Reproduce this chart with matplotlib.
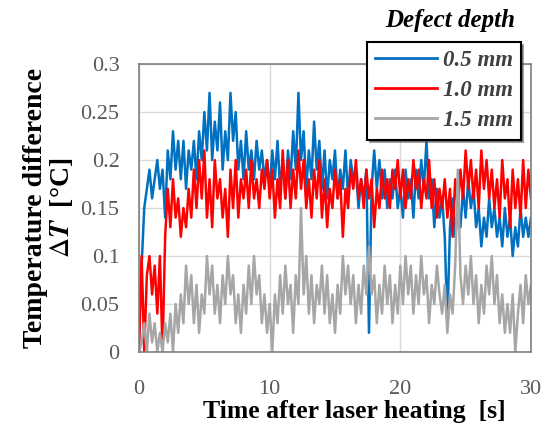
import numpy as np
import matplotlib
matplotlib.use('Agg')
import matplotlib.pyplot as plt

# sample interval of the recording [s]
dt = 0.2

# Defect depth 0.5 mm
depth_05 = [0.02, 0.09, 0.15, 0.17, 0.19, 0.16, 0.18, 0.20, 0.17, 0.19,
            0.14, 0.21, 0.18, 0.23, 0.19, 0.22, 0.18, 0.22, 0.17, 0.21,
            0.19, 0.22, 0.18, 0.23, 0.20, 0.25, 0.21, 0.27, 0.20, 0.24,
            0.21, 0.26, 0.19, 0.23, 0.20, 0.27, 0.22, 0.25, 0.19, 0.22,
            0.18, 0.23, 0.19, 0.21, 0.18, 0.22, 0.19, 0.21, 0.18, 0.20,
            0.17, 0.21, 0.18, 0.22, 0.17, 0.20, 0.16, 0.21, 0.18, 0.23,
            0.19, 0.27, 0.20, 0.23, 0.17, 0.21, 0.18, 0.24, 0.19, 0.22,
            0.17, 0.21, 0.16, 0.20, 0.18, 0.21, 0.16, 0.19, 0.17, 0.21,
            0.16, 0.20, 0.18, 0.19, 0.15, 0.18, 0.16, 0.19, 0.02, 0.17,
            0.21, 0.17, 0.20, 0.16, 0.19, 0.15, 0.18, 0.16, 0.19, 0.15,
            0.17, 0.14, 0.19, 0.16, 0.18, 0.14, 0.19, 0.16, 0.20, 0.17,
            0.22, 0.16, 0.18, 0.13, 0.17, 0.14, 0.16, 0.12, 0.03, 0.13,
            0.16, 0.12, 0.15, 0.13, 0.17, 0.14, 0.18, 0.15, 0.17, 0.13,
            0.15, 0.11, 0.14, 0.12, 0.16, 0.13, 0.15, 0.12, 0.14, 0.11,
            0.15, 0.12, 0.14, 0.10, 0.13, 0.11, 0.15, 0.12, 0.14, 0.12,
            0.14]

# Defect depth 1.0 mm
depth_10 = [0.00, 0.10, 0.00, 0.08, 0.10, 0.06, 0.09, 0.04, 0.10, 0.00,
            0.12, 0.17, 0.13, 0.18, 0.14, 0.16, 0.12, 0.15, 0.13, 0.17,
            0.14, 0.19, 0.15, 0.20, 0.16, 0.21, 0.14, 0.18, 0.13, 0.20,
            0.16, 0.18, 0.14, 0.17, 0.12, 0.19, 0.15, 0.20, 0.14, 0.18,
            0.16, 0.19, 0.15, 0.20, 0.16, 0.18, 0.15, 0.19, 0.17, 0.20,
            0.16, 0.19, 0.14, 0.18, 0.15, 0.21, 0.16, 0.20, 0.15, 0.19,
            0.16, 0.21, 0.17, 0.20, 0.15, 0.18, 0.14, 0.19, 0.16, 0.20,
            0.14, 0.18, 0.13, 0.17, 0.15, 0.19, 0.16, 0.18, 0.12, 0.17,
            0.15, 0.19, 0.17, 0.20, 0.16, 0.18, 0.15, 0.19, 0.16, 0.18,
            0.13, 0.17, 0.15, 0.19, 0.16, 0.18, 0.15, 0.19, 0.17, 0.20,
            0.16, 0.19, 0.15, 0.18, 0.16, 0.20, 0.17, 0.19, 0.15, 0.18,
            0.16, 0.20, 0.15, 0.18, 0.14, 0.17, 0.15, 0.18, 0.14, 0.17,
            0.12, 0.18, 0.15, 0.19, 0.16, 0.21, 0.17, 0.20, 0.16, 0.19,
            0.15, 0.21, 0.17, 0.20, 0.16, 0.19, 0.15, 0.18, 0.14, 0.20,
            0.16, 0.18, 0.13, 0.19, 0.15, 0.18, 0.14, 0.20, 0.15, 0.19,
            0.16]

# Defect depth 1.5 mm
depth_15 = [0.00, 0.01, 0.03, 0.00, 0.04, 0.01, 0.03, 0.00, 0.02, 0.00,
            0.03, 0.01, 0.04, 0.00, 0.05, 0.02, 0.06, 0.03, 0.09, 0.05,
            0.08, 0.03, 0.07, 0.02, 0.06, 0.04, 0.10, 0.06, 0.09, 0.04,
            0.07, 0.03, 0.08, 0.05, 0.10, 0.06, 0.08, 0.03, 0.06, 0.02,
            0.07, 0.04, 0.09, 0.05, 0.10, 0.06, 0.08, 0.03, 0.06, 0.02,
            0.05, 0.00, 0.06, 0.03, 0.08, 0.04, 0.09, 0.05, 0.07, 0.02,
            0.08, 0.05, 0.15, 0.06, 0.10, 0.04, 0.08, 0.03, 0.07, 0.05,
            0.09, 0.04, 0.08, 0.03, 0.06, 0.02, 0.07, 0.04, 0.10, 0.06,
            0.09, 0.05, 0.08, 0.03, 0.07, 0.04, 0.09, 0.06, 0.11, 0.06,
            0.08, 0.03, 0.07, 0.04, 0.09, 0.05, 0.08, 0.03, 0.07, 0.04,
            0.09, 0.05, 0.10, 0.06, 0.09, 0.04, 0.08, 0.05, 0.10, 0.06,
            0.08, 0.03, 0.07, 0.05, 0.09, 0.06, 0.04, 0.07, 0.02, 0.06,
            0.04, 0.09, 0.19, 0.08, 0.05, 0.09, 0.06, 0.10, 0.05, 0.08,
            0.03, 0.07, 0.04, 0.09, 0.06, 0.10, 0.05, 0.08, 0.03, 0.06,
            0.02, 0.05, 0.02, 0.06, 0.00, 0.04, 0.07, 0.03, 0.08, 0.05,
            0.07]

labels = ['0.5 mm', '1.0 mm', '1.5 mm']
colors = ['#0070C0', '#FF0000', '#A6A6A6']

plt.rcParams['font.family'] = ['Liberation Serif', 'DejaVu Serif']
plt.rcParams['mathtext.fontset'] = 'stix'

fig = plt.figure(figsize=(5.46, 4.30), dpi=100)
ax = fig.add_axes([0.2546, 0.1814, 0.7179, 0.6696])

for data, lab, col in zip([depth_05, depth_10, depth_15], labels, colors):
    t = np.arange(len(data)) * dt
    ax.plot(t, data, color=col, lw=1.8, label=lab)

ax.set_xlim(0, 30)
ax.set_ylim(0, 0.3)
ax.set_xticks([0, 10, 20, 30])
ax.set_yticks([0, 0.05, 0.1, 0.15, 0.2, 0.25, 0.3])
ax.set_yticklabels(['0', '0.05', '0.1', '0.15', '0.2', '0.25', '0.3'])
ax.grid(True, color='#D9D9D9', lw=1.0)
ax.set_axisbelow(True)
ax.tick_params(length=0, labelsize=16, labelcolor='#595959')
ax.tick_params(axis='x', pad=20)
ax.tick_params(axis='y', pad=14)
for s in ax.spines.values():
    s.set_color('#808080')
    s.set_linewidth(1.2)

ax.set_xlabel('Time after laser heating  [s]', fontsize=18.5, fontweight='bold')
ax.xaxis.set_label_coords(0.55, -0.165)
ax.set_ylabel('Temperature difference\n$\\Delta\\mathbfit{T}$  [°C]', fontsize=20,
              fontweight='bold', labelpad=4, linespacing=1.0)

leg = ax.legend(loc='upper left', bbox_to_anchor=(367 / 546, 1 - 42 / 430),
                bbox_transform=fig.transFigure, borderaxespad=0, frameon=True,
                fancybox=False, shadow=True, handlelength=2.7, handletextpad=0.25,
                borderpad=0.35, labelspacing=0.4,
                prop={'style': 'italic', 'weight': 'bold', 'size': 16.5})
leg.get_frame().set_edgecolor('black')
leg.get_frame().set_linewidth(1.5)
for txt in leg.get_texts():
    txt.set_color('#404040')
for ln in leg.get_lines():
    ln.set_linewidth(2.0)

fig.text(450 / 546, 1 - 20 / 430, 'Defect depth', ha='center', va='center',
         fontsize=18, fontweight='bold', style='italic')

fig.savefig('out.png', dpi=100)
